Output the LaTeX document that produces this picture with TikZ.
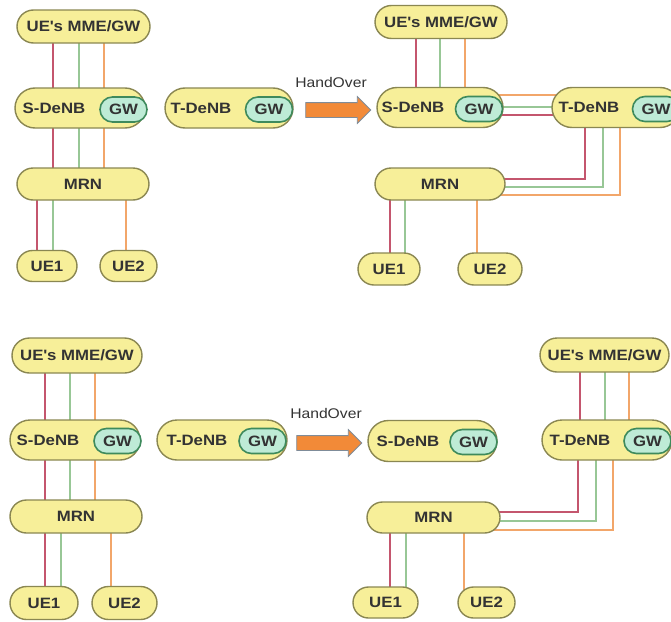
\documentclass[tikz,border=0pt]{standalone}
\usepackage{fontspec}
\setmainfont{Liberation Sans}[FakeStretch=1.12]
\usepackage{tikz}
\usetikzlibrary{shapes.misc,shapes.arrows,backgrounds}

\definecolor{boxfill}{HTML}{F7EF99}
\definecolor{boxline}{HTML}{8A8752}
\definecolor{gwfill}{HTML}{BEEBD6}
\definecolor{gwline}{HTML}{3E8A5C}
\definecolor{txtgray}{HTML}{333333}
\definecolor{linered}{HTML}{C4566E}
\definecolor{linegreen}{HTML}{98C796}
\definecolor{lineorange}{HTML}{F2A66A}
\definecolor{arrfill}{HTML}{F28A38}
\definecolor{arrline}{HTML}{7F8C99}

\tikzset{
	box/.style={rounded rectangle, draw=boxline, fill=boxfill, line width=1.4pt, inner sep=0pt, minimum height=33pt, font=\bfseries\fontsize{15}{15}\selectfont, text=txtgray},
	gwbox/.style={rounded rectangle, draw=gwline, fill=gwfill, line width=1.6pt, inner sep=0pt, minimum width=47pt, minimum height=25pt, font=\bfseries\fontsize{15}{15}\selectfont, text=txtgray},
	lbl/.style={inner sep=0pt, font=\bfseries\fontsize{15}{15}\selectfont, text=txtgray},
	hover/.style={inner sep=0pt, font=\fontsize{14}{14}\selectfont, text=txtgray},
	hoarrow/.style={single arrow, draw=arrline, fill=arrfill, line width=0.8pt, inner sep=7pt, minimum height=65pt, single arrow head extend=6pt},
	redl/.style={draw=linered, line width=1.4pt},
	greenl/.style={draw=linegreen, line width=1.4pt},
	orangel/.style={draw=lineorange, line width=1.4pt}
}

\begin{document}
\begin{tikzpicture}[x=1pt, y=-1pt]

	\useasboundingbox (0,0) rectangle (671,621);
	\clip (0,0) rectangle (671,621);

	% before handover, top
	\node [box, minimum width=133pt] (mmeA) at (83.5, 26.5) {UE\textquotesingle s MME/GW};
	\node [box, minimum width=130pt, minimum height=40pt] (sdenbA) at (80, 108) {};
	\node [lbl] (sdenbAl) at (54, 108) {S-DeNB};
	\node [gwbox] (gwSA) at (123.5, 109.5) {GW};
	\node [box, minimum width=128pt, minimum height=40pt] (tdenbA) at (229, 108) {};
	\node [lbl] (tdenbAl) at (201, 108) {T-DeNB};
	\node [gwbox] (gwTA) at (269, 109.5) {GW};
	\node [box, minimum width=132pt, minimum height=32pt] (mrnA) at (83, 184) {MRN};
	\node [box, minimum width=60pt, minimum height=31pt] (ueoneA) at (47, 266) {UE1};
	\node [box, minimum width=57pt, minimum height=31pt] (uetwoA) at (128.5, 266) {UE2};

	\node [hover] (hoA) at (331, 82) {HandOver};
	\node [hoarrow] (arrA) at (334.5, 110) {};

	% after handover, top
	\node [box, minimum width=132pt] (mmeB) at (441, 22) {UE\textquotesingle s MME/GW};
	\node [box, minimum width=126pt, minimum height=40pt] (sdenbB) at (440, 107.5) {};
	\node [lbl] (sdenbBl) at (413, 107.5) {S-DeNB};
	\node [gwbox] (gwSB) at (479, 109) {GW};
	\node [box, minimum width=128pt, minimum height=40pt] (tdenbB) at (616, 107.5) {};
	\node [lbl] (tdenbBl) at (589, 107.5) {T-DeNB};
	\node [gwbox] (gwTB) at (656, 109) {GW};
	\node [box, minimum width=130pt, minimum height=32pt] (mrnB) at (440, 184) {MRN};
	\node [box, minimum width=62pt, minimum height=32pt] (ueoneB) at (389, 269) {UE1};
	\node [box, minimum width=64pt, minimum height=32pt] (uetwoB) at (490, 269) {UE2};

	% before handover, bottom
	\node [box, minimum width=130pt, minimum height=35pt] (mmeC) at (77, 355.5) {UE\textquotesingle s MME/GW};
	\node [box, minimum width=130pt, minimum height=40pt] (sdenbC) at (75, 440) {};
	\node [lbl] (sdenbCl) at (48, 440) {S-DeNB};
	\node [gwbox] (gwSC) at (117.5, 441) {GW};
	\node [box, minimum width=130pt, minimum height=40pt] (tdenbC) at (222, 440) {};
	\node [lbl] (tdenbCl) at (197, 440) {T-DeNB};
	\node [gwbox] (gwTC) at (262.5, 441) {GW};
	\node [box, minimum width=132pt, minimum height=33pt] (mrnC) at (76, 516.5) {MRN};
	\node [box, minimum width=68pt, minimum height=33pt] (ueoneC) at (44, 603) {UE1};
	\node [box, minimum width=65pt, minimum height=33pt] (uetwoC) at (124.5, 603) {UE2};

	\node [hover] (hoC) at (326, 413) {HandOver};
	\node [hoarrow] (arrC) at (325.5, 443) {};

	% after handover, bottom
	\node [box, minimum width=129pt, minimum height=34pt] (mmeD) at (604.5, 355) {UE\textquotesingle s MME/GW};
	\node [box, minimum width=129pt, minimum height=41pt] (sdenbD) at (432.5, 441) {};
	\node [lbl] (sdenbDl) at (408, 441) {S-DeNB};
	\node [gwbox] (gwSD) at (473.5, 442) {GW};
	\node [box, minimum width=130pt, minimum height=40pt] (tdenbD) at (607, 440) {};
	\node [lbl] (tdenbDl) at (580, 440) {T-DeNB};
	\node [gwbox] (gwTD) at (647.5, 441) {GW};
	\node [box, minimum width=133pt, minimum height=31pt] (mrnD) at (433.5, 517.5) {MRN};
	\node [box, minimum width=65pt, minimum height=31pt] (ueoneD) at (385.5, 602.5) {UE1};
	\node [box, minimum width=57pt, minimum height=31pt] (uetwoD) at (486.5, 602.5) {UE2};

	\begin{scope}[on background layer]
		% top left
		\draw[redl] (53,0 |- mmeA.center) -- (53,0 |- mrnA.center);
		\draw[greenl] (79,0 |- mmeA.center) -- (79,0 |- mrnA.center);
		\draw[orangel] (104,0 |- mmeA.center) -- (104,0 |- mrnA.center);
		\draw[redl] (37,0 |- mrnA.center) -- (37,0 |- ueoneA.center);
		\draw[greenl] (53,0 |- mrnA.center) -- (53,0 |- ueoneA.center);
		\draw[orangel] (126,0 |- mrnA.center) -- (126,0 |- uetwoA.center);

		% top right
		\draw[redl] (416,0 |- mmeB.center) -- (416,0 |- sdenbB.center);
		\draw[greenl] (440,0 |- mmeB.center) -- (440,0 |- sdenbB.center);
		\draw[orangel] (465,0 |- mmeB.center) -- (465,0 |- sdenbB.center);
		\draw[orangel] (sdenbB.center |- 0,95) -- (tdenbB.center |- 0,95);
		\draw[greenl] (sdenbB.center |- 0,107) -- (tdenbB.center |- 0,107);
		\draw[redl] (sdenbB.center |- 0,115) -- (tdenbB.center |- 0,115);
		\draw[redl] (585,0 |- tdenbB.center) |- (mrnB.center |- 0,179);
		\draw[greenl] (603,0 |- tdenbB.center) |- (mrnB.center |- 0,187);
		\draw[orangel] (620,0 |- tdenbB.center) |- (mrnB.center |- 0,195);
		\draw[redl] (390,0 |- mrnB.center) -- (390,0 |- ueoneB.center);
		\draw[greenl] (405,0 |- mrnB.center) -- (405,0 |- ueoneB.center);
		\draw[orangel] (477,0 |- mrnB.center) -- (477,0 |- uetwoB.center);

		% bottom left
		\draw[redl] (45,0 |- mmeC.center) -- (45,0 |- mrnC.center);
		\draw[greenl] (70,0 |- mmeC.center) -- (70,0 |- mrnC.center);
		\draw[orangel] (95,0 |- mmeC.center) -- (95,0 |- mrnC.center);
		\draw[redl] (45,0 |- mrnC.center) -- (45,0 |- ueoneC.center);
		\draw[greenl] (61,0 |- mrnC.center) -- (61,0 |- ueoneC.center);
		\draw[orangel] (111,0 |- mrnC.center) -- (111,0 |- uetwoC.center);

		% bottom right
		\draw[redl] (580,0 |- mmeD.center) -- (580,0 |- tdenbD.center);
		\draw[greenl] (605,0 |- mmeD.center) -- (605,0 |- tdenbD.center);
		\draw[orangel] (629,0 |- mmeD.center) -- (629,0 |- tdenbD.center);
		\draw[redl] (578,0 |- tdenbD.center) |- (mrnD.center |- 0,512);
		\draw[greenl] (596,0 |- tdenbD.center) |- (mrnD.center |- 0,521);
		\draw[orangel] (613,0 |- tdenbD.center) |- (mrnD.center |- 0,530);
		\draw[redl] (390,0 |- mrnD.center) -- (390,0 |- ueoneD.center);
		\draw[greenl] (406,0 |- mrnD.center) -- (406,0 |- ueoneD.center);
		\draw[orangel] (464,0 |- mrnD.center) -- (464,0 |- uetwoD.center);
	\end{scope}

\end{tikzpicture}
\end{document}
